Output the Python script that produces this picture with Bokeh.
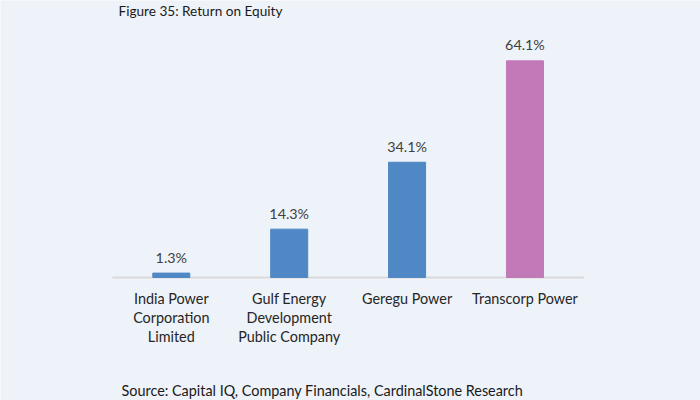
from bokeh.plotting import figure
from bokeh.models import ColumnDataSource, Range1d, Label
from bokeh.embed import file_html
from bokeh.resources import INLINE
from bokeh.core.properties import value

companies = ["India Power\nCorporation\nLimited", "Gulf Energy\nDevelopment\nPublic Company", "Geregu Power", "Transcorp Power"]
roe = [1.3, 14.3, 34.1, 64.1]
labels = ["1.3%", "14.3%", "34.1%", "64.1%"]
colors = ["#4F88C4", "#4F88C4", "#4F88C4", "#C17AB7"]
title_text = "Figure 35: Return on Equity"
source_text = "Source: Capital IQ, Company Financials, CardinalStone Research"

BG = "#EEF2F9"
FONT = "Lato"

idx = list(range(len(companies)))
src = ColumnDataSource(dict(x=idx, top=roe, lab=labels, color=colors, name=companies,
                            zero=[0] * len(idx)))

p = figure(x_range=Range1d(-1.449, 4.489), y_range=Range1d(-36.39, 81.95),
           width=700, height=400, output_backend="svg", toolbar_location=None,
           x_axis_type=None, y_axis_type=None, min_border=0)
p.title.visible = False
p.background_fill_color = BG
p.border_fill_color = BG
p.outline_line_color = None
p.xgrid.visible = False
p.ygrid.visible = False

# baseline axis line
p.line(x=[idx[0] - 0.5, idx[-1] + 0.5], y=[0, 0], line_color="#D9D9D9", line_width=2)

p.vbar(x="x", top="top", width=0.314, color="color", source=src)
p.text(x="x", y="top", text="lab", source=src, y_offset=-16, text_align="center",
       text_baseline="alphabetic", text_font=value(FONT), text_font_size="14.3px",
       text_color="#404040")

# category labels
p.text(x="x", y="zero", text="name", source=src, y_offset=13, text_align="center",
       text_baseline="top", text_font=value(FONT), text_font_size="14.4px",
       text_color="#262626", text_line_height=1.11)

p.add_layout(Label(x=118, y=398, x_units="screen", y_units="screen", text=title_text,
                   text_font=FONT, text_font_size="13.6px", text_color="#1a1a1a",
                   text_baseline="top"))
p.add_layout(Label(x=121, y=10, x_units="screen", y_units="screen", text=source_text,
                   text_font=FONT, text_font_size="14.4px", text_color="#1a1a1a",
                   text_baseline="alphabetic"))

open("out.html", "w").write(file_html(p, INLINE))
